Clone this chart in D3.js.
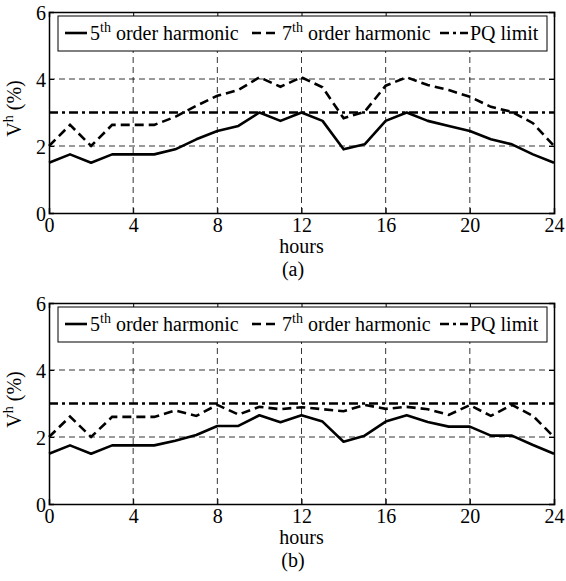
<!DOCTYPE html>
<html lang="en">
<head>
<meta charset="UTF-8">
<title>Harmonic voltage</title>
<script src="https://d3js.org/d3.v7.min.js"></script>
<style>
  body { margin: 0; background: #fff; }
  svg, text { font-family: "Liberation Serif", "Times New Roman", serif; fill: #000; }
  .grid line { stroke: #000; stroke-width: 0.8; stroke-dasharray: 6,4; }
</style>
</head>
<body>
<script>
// data
const hours = d3.range(0, 25);
const xTicks = [0, 4, 8, 12, 16, 20, 24];
const yTicks = [0, 2, 4, 6];
const pqLimit = 3;

// panel (a)
const h5a = [1.5, 1.75, 1.5, 1.75, 1.75, 1.75, 1.9, 2.2, 2.45, 2.6, 3.0, 2.75, 3.0,
             2.75, 1.9, 2.05, 2.75, 3.0, 2.75, 2.6, 2.45, 2.2, 2.05, 1.75, 1.5];
const h7a = [2.0, 2.63, 2.0, 2.63, 2.63, 2.63, 2.87, 3.2, 3.5, 3.67, 4.05, 3.77, 4.05,
             3.75, 2.83, 3.02, 3.8, 4.05, 3.82, 3.67, 3.47, 3.17, 3.02, 2.68, 2.0];
// panel (b)
const h5b = [1.5, 1.75, 1.5, 1.75, 1.75, 1.75, 1.89, 2.06, 2.33, 2.33, 2.65, 2.44, 2.65,
             2.46, 1.86, 2.04, 2.46, 2.65, 2.45, 2.31, 2.31, 2.04, 2.04, 1.76, 1.5];
const h7b = [2.0, 2.61, 2.0, 2.6, 2.6, 2.6, 2.79, 2.63, 2.96, 2.67, 2.9, 2.83, 2.89,
             2.83, 2.77, 2.96, 2.84, 2.9, 2.83, 2.66, 2.95, 2.63, 2.96, 2.63, 2.0];

const panels = [
  { tag: "(a)", top: 12, s5: h5a, s7: h7a },
  { tag: "(b)", top: 303, s5: h5b, s7: h7b }
];

const width = 566, height = 581;
const left = 49, right = 554, plotH = 201;
const font = "Liberation Serif";

const svg = d3.select("body").append("svg")
  .attr("width", width)
  .attr("height", height)
  .attr("font-family", font);

const x = d3.scaleLinear().domain([0, 24]).range([left, right]);

const styles = {
  solid: null,
  dash: "9,5",
  dashdot: "9,4,3,4"
};

panels.forEach(p => {
  const y = d3.scaleLinear().domain([0, 6]).range([p.top + plotH, p.top]);
  const g = svg.append("g");

  // grid
  const grid = g.append("g").attr("class", "grid");
  grid.selectAll(".gx").data(xTicks.slice(1, -1)).join("line")
    .attr("x1", d => x(d)).attr("x2", d => x(d))
    .attr("y1", y(0)).attr("y2", y(6));
  grid.selectAll(".gy").data(yTicks.slice(1, -1)).join("line")
    .attr("x1", x(0)).attr("x2", x(24))
    .attr("y1", d => y(d)).attr("y2", d => y(d));

  // axes (inward ticks)
  const ax = g.append("g").attr("transform", `translate(0,${y(0)})`)
    .call(d3.axisBottom(x).tickValues(xTicks).tickSize(-5).tickFormat(d3.format("d")));
  const ay = g.append("g").attr("transform", `translate(${x(0)},0)`)
    .call(d3.axisLeft(y).tickValues(yTicks).tickSize(-5).tickFormat(d3.format("d")));
  g.append("g").attr("transform", `translate(0,${y(6)})`)
    .call(d3.axisTop(x).tickValues(xTicks).tickSize(-5).tickFormat(""));
  g.append("g").attr("transform", `translate(${x(24)},0)`)
    .call(d3.axisRight(y).tickValues(yTicks).tickSize(-5).tickFormat(""));
  g.selectAll("g").attr("font-family", font);
  g.selectAll(".domain").attr("stroke", "#000").attr("stroke-width", 1.5);
  g.selectAll(".tick line").attr("stroke", "#000");
  ax.selectAll("text").attr("font-size", 20).attr("dy", null).attr("y", 19);
  ay.selectAll("text").attr("font-size", 20).attr("dy", null).attr("y", 7).attr("x", -3);

  // lines
  const line = d3.line().x((d, i) => x(hours[i])).y(d => y(d));
  g.append("path").datum(p.s5).attr("d", line)
    .attr("fill", "none").attr("stroke", "#000").attr("stroke-width", 2.6)
    .attr("stroke-linejoin", "round");
  g.append("path").datum(p.s7).attr("d", line)
    .attr("fill", "none").attr("stroke", "#000").attr("stroke-width", 2.6)
    .attr("stroke-dasharray", styles.dash);
  g.append("line")
    .attr("x1", x(0)).attr("x2", x(24))
    .attr("y1", y(pqLimit)).attr("y2", y(pqLimit))
    .attr("stroke", "#000").attr("stroke-width", 2.6)
    .attr("stroke-dasharray", styles.dashdot);

  // legend
  const ly = p.top + 21;
  g.append("rect")
    .attr("x", 58).attr("y", p.top + 4).attr("width", 489).attr("height", 35)
    .attr("fill", "#fff").attr("stroke", "#000").attr("stroke-width", 1);
  const items = [
    { x0: 65, x1: 87, tx: 90, style: styles.solid, num: "5", sup: "th", rest: " order harmonic" },
    { x0: 252, x1: 279, tx: 282, style: styles.dash, num: "7", sup: "th", rest: " order harmonic" },
    { x0: 440, x1: 468, tx: 470, style: styles.dashdot, num: "PQ limit", sup: null, rest: "" }
  ];
  items.forEach(it => {
    g.append("line")
      .attr("x1", it.x0).attr("x2", it.x1).attr("y1", ly).attr("y2", ly)
      .attr("stroke", "#000").attr("stroke-width", 2.6)
      .attr("stroke-dasharray", it.style);
    const t = g.append("text").attr("x", it.tx).attr("y", ly + 7).attr("font-size", 20);
    t.append("tspan").text(it.num);
    if (it.sup) {
      t.append("tspan").attr("font-size", 14).attr("dy", -8).text(it.sup);
      t.append("tspan").attr("dy", 8).text(it.rest);
    }
  });

  // axis titles
  g.append("text").attr("x", (left + right) / 2).attr("y", y(0) + 40)
    .attr("text-anchor", "middle").attr("font-size", 20).text("hours");
  g.append("text").attr("x", 293).attr("y", y(0) + 63)
    .attr("text-anchor", "middle").attr("font-size", 20).text(p.tag);

  const yl = g.append("text")
    .attr("transform", `translate(21,${y(3) - 4}) rotate(-90)`)
    .attr("text-anchor", "middle").attr("font-size", 20);
  yl.append("tspan").text("V");
  yl.append("tspan").attr("font-size", 14).attr("dy", -8).text("h");
  yl.append("tspan").attr("dy", 8).text(" (%)");
});
</script>
</body>
</html>
